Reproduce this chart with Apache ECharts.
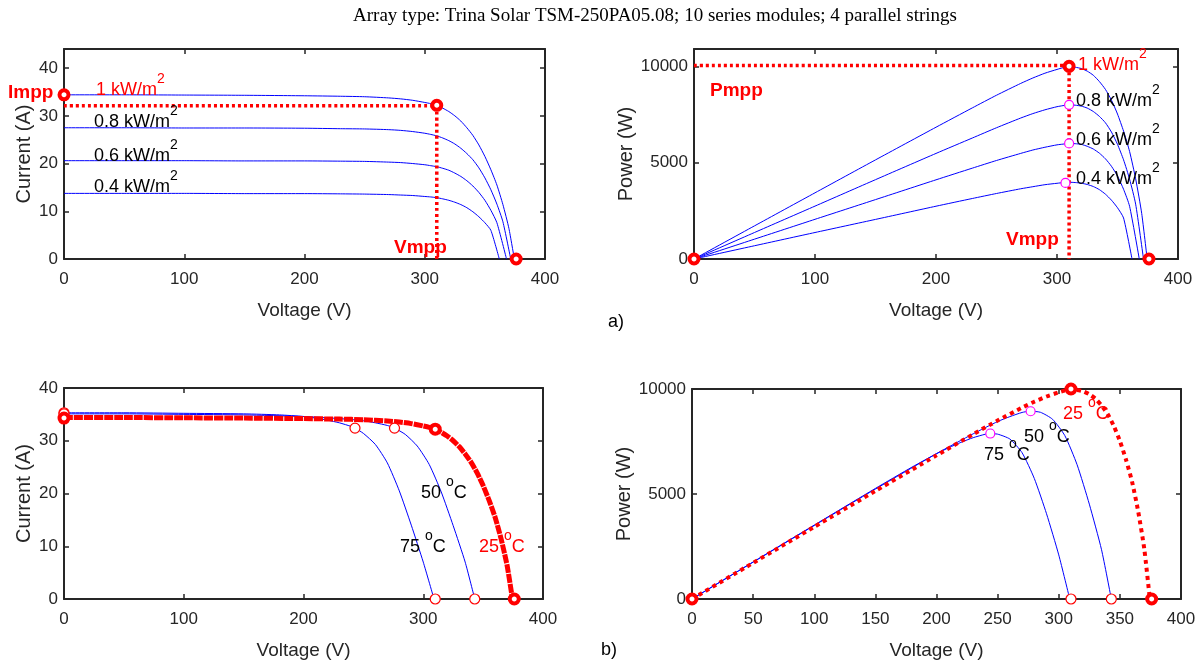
<!DOCTYPE html>
<html>
<head>
<meta charset="utf-8">
<script src="https://cdn.jsdelivr.net/npm/echarts@6/dist/echarts.min.js"></script>
<style>html,body{margin:0;padding:0;background:#fff}#main{width:1204px;height:664px}</style>
</head>
<body>
<div id="main"></div>
<script>
// --- irradiance sweep (25 oC) : I-V and P-V ---
const vG10 = [0, 50, 100, 150, 200, 230, 250, 270, 280, 290, 300, 305, 310, 315, 320, 325, 330, 335, 340, 345, 350, 355, 360, 365, 370, 374.5]
const iG10 = [34.4, 34.4, 34.35, 34.3, 34.2, 34.1, 34.0, 33.75, 33.55, 33.25, 32.8, 32.55, 32.2, 31.6, 30.9, 30.0, 28.9, 27.5, 25.9, 23.9, 21.5, 18.7, 15.5, 11.4, 6.4, 0]
const pG10 = [0, 1720, 3435, 5145, 6840, 7843, 8500, 9113, 9394, 9643, 9840, 9928, 9982, 9954, 9888, 9750, 9537, 9213, 8806, 8246, 7525, 6639, 5580, 4161, 2368, 0]

const vG08 = [0, 50, 100, 150, 200, 230, 250, 270, 280, 290, 300, 305, 310, 315, 320, 325, 330, 335, 340, 345, 350, 355, 360, 365, 371.5]
const iG08 = [27.5, 27.5, 27.45, 27.45, 27.4, 27.3, 27.25, 27.1, 26.95, 26.7, 26.35, 26.1, 25.8, 25.35, 24.8, 24.1, 23.2, 22.1, 20.8, 19.1, 17.0, 14.5, 11.5, 7.8, 0]
const pG08 = [0, 1375, 2745, 4118, 5480, 6279, 6813, 7317, 7546, 7743, 7905, 7961, 7998, 7985, 7936, 7833, 7656, 7404, 7072, 6590, 5950, 5148, 4140, 2847, 0]

const vG06 = [0, 50, 100, 150, 200, 230, 250, 270, 280, 290, 300, 305, 310, 315, 320, 325, 330, 335, 340, 345, 350, 355, 360, 368]
const iG06 = [20.6, 20.6, 20.6, 20.55, 20.55, 20.5, 20.45, 20.3, 20.2, 20.0, 19.75, 19.55, 19.35, 19.0, 18.6, 18.0, 17.3, 16.4, 15.3, 13.95, 12.3, 10.2, 7.6, 0]
const pG06 = [0, 1030, 2060, 3083, 4110, 4715, 5113, 5481, 5656, 5800, 5925, 5963, 5999, 5985, 5952, 5850, 5709, 5494, 5202, 4813, 4305, 3621, 2736, 0]

const vG04 = [0, 50, 100, 150, 200, 230, 250, 270, 280, 290, 300, 305, 310, 315, 320, 325, 330, 335, 340, 345, 350, 355, 362]
const iG04 = [13.75, 13.75, 13.75, 13.7, 13.7, 13.65, 13.6, 13.5, 13.4, 13.3, 13.1, 13.0, 12.85, 12.6, 12.3, 11.9, 11.4, 10.75, 9.9, 8.85, 7.6, 6.0, 0]
const pG04 = [0, 688, 1375, 2055, 2740, 3140, 3400, 3645, 3752, 3857, 3930, 3965, 3984, 3969, 3936, 3868, 3762, 3601, 3366, 3053, 2660, 2130, 0]

// --- temperature sweep (1 kW/m2), 25 oC curve is the same as vG10/iG10/pG10 ---
const vT75 = [0, 50, 100, 150, 180, 200, 210, 220, 230, 240, 243, 250, 260, 270, 280, 290, 300, 309]
const iT75 = [35.3, 35.3, 35.2, 35.1, 34.9, 34.6, 34.3, 33.9, 33.4, 32.7, 32.4, 31.4, 29.3, 25.8, 20.5, 14.0, 7.0, 0]
const pT75 = [0, 1765, 3520, 5265, 6282, 6920, 7203, 7458, 7682, 7848, 7873, 7850, 7618, 6966, 5740, 4060, 2100, 0]

const vT50 = [0, 50, 100, 150, 200, 230, 250, 260, 270, 276, 285, 295, 305, 315, 325, 335, 343]
const iT50 = [35.1, 35.1, 35.0, 34.9, 34.6, 34.2, 33.8, 33.4, 32.9, 32.4, 31.2, 29.0, 25.5, 20.3, 13.9, 7.0, 0]
const pT50 = [0, 1755, 3500, 5235, 6920, 7866, 8450, 8684, 8883, 8942, 8892, 8555, 7778, 6395, 4518, 2345, 0]

// markers
const mppIV_a = [[0, 34.4], [310, 32.2], [376, 0]]
const mppPV_a = [[0, 0], [310, 10000], [376, 0]]
const mppPV_a_low = [[310, 8000], [310, 6000], [307, 3950]]
const mppIV_b = [[0, 34.3], [310, 32.2], [376, 0]]
const thinIV_b = [[0, 35.3], [0, 35.1], [243, 32.4], [276, 32.4], [310, 0], [343, 0]]
const mppPV_b = [[0, 0], [310, 10000], [376, 0]]
const mppPV_b_low = [[244, 7880], [277, 8940]]
const thinPV_b = [[310, 0], [343, 0]]

const guideI = [[[0, 32.1], [310, 32.1]], [[310, 32.1], [310, 0]]]
const guideP = [[[0, 10050], [310, 10050]], [[310, 10000], [310, 0]]]

const titleText = 'Array type: Trina Solar TSM-250PA05.08; 10 series modules; 4 parallel strings'

const zip = (xs, ys) => xs.map((x, i) => [x, ys[i]])

const FONT = '"Liberation Sans", Arial, sans-serif'
const AX = '#262626'
const BLUE = '#0000ff'
const RED = '#ff0000'

let chart = echarts.init(document.getElementById('main'), null, { renderer: 'canvas' })

const grids = [
  { left: 64, top: 49, width: 481, height: 210 },
  { left: 694, top: 49, width: 484, height: 210 },
  { left: 64, top: 388, width: 479, height: 211 },
  { left: 692, top: 389, width: 489, height: 210 }
]

function xAxisOf(g, interval, main) {
  return {
    type: 'value', gridIndex: g, min: 0, max: 400, interval: interval,
    position: main ? 'bottom' : 'top',
    name: main ? 'Voltage (V)' : '', nameLocation: 'middle', nameGap: 42,
    nameTextStyle: { fontFamily: FONT, fontSize: 19, color: AX },
    axisLine: { show: true, onZero: false, lineStyle: { color: AX, width: 2 } },
    axisTick: { show: true, inside: true, length: 5, lineStyle: { color: AX, width: 1.5 } },
    axisLabel: { show: main, margin: 12, fontFamily: FONT, fontSize: 17, color: AX },
    splitLine: { show: false }
  }
}

function yAxisOf(g, max, interval, name, gap, main) {
  return {
    type: 'value', gridIndex: g, min: 0, max: max, interval: interval,
    position: main ? 'left' : 'right',
    name: main ? name : '', nameLocation: 'middle', nameGap: gap,
    nameTextStyle: { fontFamily: FONT, fontSize: 20, color: AX },
    axisLine: { show: true, onZero: false, lineStyle: { color: AX, width: 2 } },
    axisTick: { show: true, inside: true, length: 5, lineStyle: { color: AX, width: 1.5 } },
    axisLabel: {
      show: main, margin: 6, fontFamily: FONT, fontSize: 17, color: AX,
      formatter: v => (v % interval === 0 ? String(v) : '')
    },
    splitLine: { show: false }
  }
}

const xAxes = [
  xAxisOf(0, 100, true), xAxisOf(1, 100, true), xAxisOf(2, 100, true), xAxisOf(3, 50, true),
  xAxisOf(0, 100, false), xAxisOf(1, 100, false), xAxisOf(2, 100, false), xAxisOf(3, 50, false)
]
const yAxes = [
  yAxisOf(0, 44, 10, 'Current (A)', 30, true),
  yAxisOf(1, 10900, 5000, 'Power (W)', 57, true),
  yAxisOf(2, 40, 10, 'Current (A)', 30, true),
  yAxisOf(3, 10000, 5000, 'Power (W)', 58, true),
  yAxisOf(0, 44, 10, '', 0, false),
  yAxisOf(1, 10900, 5000, '', 0, false),
  yAxisOf(2, 40, 10, '', 0, false),
  yAxisOf(3, 10000, 5000, '', 0, false)
]

function curve(g, data, color, width, type) {
  return {
    type: 'line', xAxisIndex: g, yAxisIndex: g, data: data, smooth: 0.2,
    showSymbol: false, clip: false, silent: true, z: 3,
    lineStyle: { color: color, width: width, type: type || 'solid' }
  }
}

// hollow circle: white fill, coloured ring
function marks(g, data, color, size, bw) {
  return {
    type: 'scatter', xAxisIndex: g, yAxisIndex: g, data: data, clip: false,
    symbol: 'circle', symbolSize: size, z: 6, silent: true,
    itemStyle: { color: '#fff', borderColor: color, borderWidth: bw, opacity: 1 }
  }
}

const series = [
  // a) I-V
  curve(0, zip(vG10, iG10), BLUE, 1),
  curve(0, zip(vG08, iG08), BLUE, 1),
  curve(0, zip(vG06, iG06), BLUE, 1),
  curve(0, zip(vG04, iG04), BLUE, 1),
  curve(0, guideI[0], RED, 3.5, [3, 3]),
  curve(0, guideI[1], RED, 3.5, [3, 3]),
  marks(0, mppIV_a, RED, 9, 4),
  // a) P-V
  curve(1, zip(vG10, pG10), BLUE, 1),
  curve(1, zip(vG08, pG08), BLUE, 1),
  curve(1, zip(vG06, pG06), BLUE, 1),
  curve(1, zip(vG04, pG04), BLUE, 1),
  curve(1, guideP[0], RED, 3.5, [3, 3]),
  curve(1, guideP[1], RED, 3.5, [3, 3]),
  marks(1, mppPV_a, RED, 9, 4),
  marks(1, mppPV_a_low, '#ff00ff', 9, 1.2),
  // b) I-V
  curve(2, zip(vT75, iT75), BLUE, 1),
  curve(2, zip(vT50, iT50), BLUE, 1),
  curve(2, zip(vG10, iG10), RED, 5, [9, 1]),
  marks(2, thinIV_b, RED, 10, 1.2),
  marks(2, mppIV_b, RED, 9, 4),
  // b) P-V
  curve(3, zip(vT75, pT75), BLUE, 1),
  curve(3, zip(vT50, pT50), BLUE, 1),
  curve(3, zip(vG10, pG10), RED, 4, [4, 4]),
  marks(3, mppPV_b_low, '#ff00ff', 9, 1.2),
  marks(3, thinPV_b, RED, 10, 1.2),
  marks(3, mppPV_b, RED, 9, 4)
]

// text with a superscript part; cy = centre of the main text
function supText(x, cy, pre, sup, post, color) {
  return {
    type: 'text', x: x, y: cy - 16, z: 10, silent: true,
    style: {
      text: '{n|' + pre + '}{s|' + sup + '}' + (post ? '{n|' + post + '}' : ''),
      verticalAlign: 'top',
      rich: {
        n: { fontFamily: FONT, fontSize: 18, lineHeight: 27, verticalAlign: 'bottom', fill: color },
        s: { fontFamily: FONT, fontSize: 14, lineHeight: 27, verticalAlign: 'top', fill: color }
      }
    }
  }
}

function plainText(x, cy, text, color, bold, size, family) {
  return {
    type: 'text', x: x, y: cy, z: 10, silent: true,
    style: {
      text: text, fill: color, verticalAlign: 'middle',
      font: (bold ? 'bold ' : '') + (size || 18) + 'px ' + (family || FONT)
    }
  }
}

const graphics = [
  {
    type: 'text', x: 655, y: 16, silent: true,
    style: { text: titleText, fill: '#000', align: 'center', verticalAlign: 'middle', font: '19px "Liberation Serif", "Times New Roman", serif' }
  },
  // a) I-V labels
  plainText(8, 93, 'Impp', RED, true, 19),
  supText(96, 88, '1 kW/m', '2', '', RED),
  supText(94, 120, '0.8 kW/m', '2', '', '#000'),
  supText(94, 154, '0.6 kW/m', '2', '', '#000'),
  supText(94, 185, '0.4 kW/m', '2', '', '#000'),
  plainText(394, 248, 'Vmpp', RED, true, 19),
  // a) P-V labels
  plainText(710, 91, 'Pmpp', RED, true, 19),
  supText(1078, 63, '1 kW/m', '2', '', RED),
  supText(1076, 99, '0.8 kW/m', '2', '', '#000'),
  supText(1076, 138, '0.6 kW/m', '2', '', '#000'),
  supText(1076, 177, '0.4 kW/m', '2', '', '#000'),
  plainText(1006, 240, 'Vmpp', RED, true, 19),
  plainText(608, 322, 'a)', '#000', false),
  // b) I-V labels
  supText(421, 491, '50 ', 'o', 'C', '#000'),
  supText(400, 545, '75 ', 'o', 'C', '#000'),
  supText(479, 545, '25 ', 'o', 'C', RED),
  // b) P-V labels
  supText(1063, 412, '25 ', 'o', 'C', RED),
  supText(1024, 435, '50 ', 'o', 'C', '#000'),
  supText(984, 453, '75 ', 'o', 'C', '#000'),
  plainText(601, 650, 'b)', '#000', false)
]

chart.setOption({
  animation: false,
  backgroundColor: '#fff',
  grid: grids,
  xAxis: xAxes,
  yAxis: yAxes,
  series: series,
  graphic: graphics
})

window.addEventListener('resize', () => { chart.resize() })
</script>
</body>
</html>
